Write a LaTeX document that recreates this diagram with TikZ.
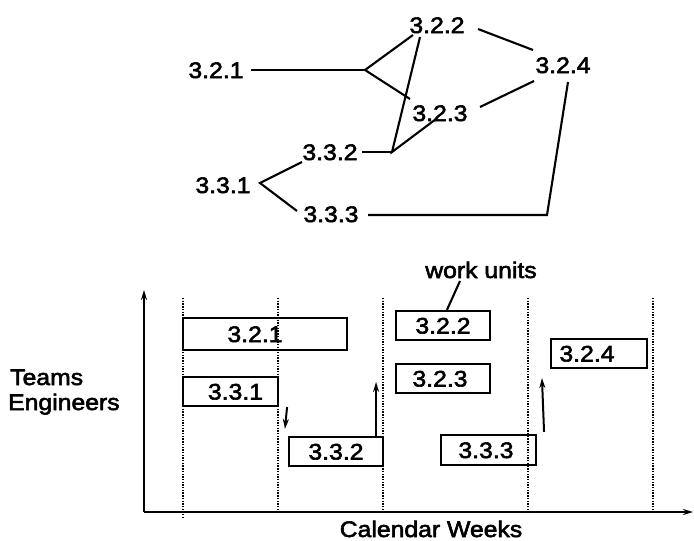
\documentclass[tikz,border=0pt]{standalone}
\usepackage{fontspec}
\setmainfont{Liberation Sans}[FakeStretch=1.1,FakeBold=2.5]
\usetikzlibrary{calc,arrows.meta}
\begin{document}
\begin{tikzpicture}[x=1pt,y=-1pt,
  font=\fontsize{22.5}{26}\selectfont,
  lbl/.style={inner sep=0pt, text height=16pt, text depth=0pt},
  edge/.style={line width=2.1pt},
  unit/.style={draw, line width=2.1pt, inner sep=0pt, text height=16pt, text depth=0pt},
  grid/.style={line width=1.5pt, dash pattern=on 1.4pt off 1.3pt},
  axis/.style={line width=2.5pt, -{Stealth[length=10pt,width=6pt]}},
  dep/.style={line width=2pt, -{Stealth[length=10pt,width=6pt]}}]

\useasboundingbox (0,0) rectangle (694,541);

% ---------- top graph ----------
\node[lbl] (n321) at (216,70) {3.2.1};
\node[lbl] (n322) at (437,25) {3.2.2};
\node[lbl] (n324) at (563,65) {3.2.4};
\node[lbl] (n323) at (440,113) {3.2.3};
\node[lbl] (n332) at (330,152) {3.3.2};
\node[lbl] (n331) at (223,185) {3.3.1};
\node[lbl] (n333) at (331,214) {3.3.3};
\coordinate (j1) at (365,70);
\coordinate (j2) at (392,152);
\coordinate (c333) at (547,215);

\draw[edge] ($(n321)+(35,0)$) -- (j1);
\draw[edge] ($(n322)+(-24,10)$) -- (j1) -- ($(n323)+(-30,-14)$);
\draw[edge] ($(n322)+(41,4)$) -- ($(n324)+(-30,-15)$);
\draw[edge] ($(n323)+(40,-6)$) -- ($(n324)+(-29,16)$);
\draw[edge] ($(n332)+(32,0)$) -- (j2);
\draw[edge] ($(n322)+(-17,12)$) -- (j2) -- ($(n323)+(-4,6)$);
\draw[edge] ($(n332)+(-28,10)$) -- ($(n331)+(37,-2)$) -- ($(n333)+(-34,-3)$);
\draw[edge] ($(n333)+(37,1)$) -- (c333) -- ($(n324)+(5,17)$);

% ---------- bottom chart ----------
\coordinate (o) at (144,512);
\coordinate (ytop) at (144,290);
\coordinate (xend) at (693,512);
\draw[axis] (o) -- (ytop);
\draw[axis] (o) -- (xend);

\draw[grid] (183,298) -- (183,518);
\draw[grid] (278,298) -- (278,512);
\draw[grid] (383,298) -- (383,512);
\draw[grid] (528,298) -- (528,512);
\draw[grid] (653,298) -- (653,512);

\node[unit, minimum width=164pt, minimum height=32pt] (b321) at (265,334) {\hspace*{-20pt}3.2.1};
\node[unit, minimum width=95pt, minimum height=29pt] (b331) at (230.5,391.5) {\hspace*{10pt}3.3.1};
\node[unit, minimum width=94pt, minimum height=29pt] (b332) at (336,451.5) {3.3.2};
\node[unit, minimum width=94pt, minimum height=29pt] (b322) at (443,325.5) {3.2.2};
\node[unit, minimum width=94pt, minimum height=29pt] (b323) at (443,378.5) {\hspace*{-6pt}3.2.3};
\node[unit, minimum width=95pt, minimum height=30pt] (b333) at (488.5,450) {\hspace*{-5pt}3.3.3};
\node[unit, minimum width=96pt, minimum height=29pt] (b324) at (599,353.5) {\hspace*{-24pt}3.2.4};

\draw[dep] ($(b331.south east)+(8,0)$) -- ($(b332.north west)+(-3,-7)$);
\draw[dep] ($(b332.north east)+(-8,0)$) -- ++(0,-54);
\draw[dep] ($(b333.north east)+(7,-2)$) -- ($(b324.south west)+(-8,9)$);

\node[anchor=base, inner sep=0pt] (wu) at (481,278) {work units};
\draw[edge] ($(wu.base)+(-21,3)$) -- ($(b322.north west)+(52,0)$);

\node[anchor=base west, inner sep=0pt] (teams) at (10,385) {Teams};
\node[anchor=base west, inner sep=0pt] (eng) at (8,410) {Engineers};
\node[anchor=base, inner sep=0pt, text depth=0pt] (cw) at (431,537) {Calendar Weeks};
\end{tikzpicture}
\end{document}
